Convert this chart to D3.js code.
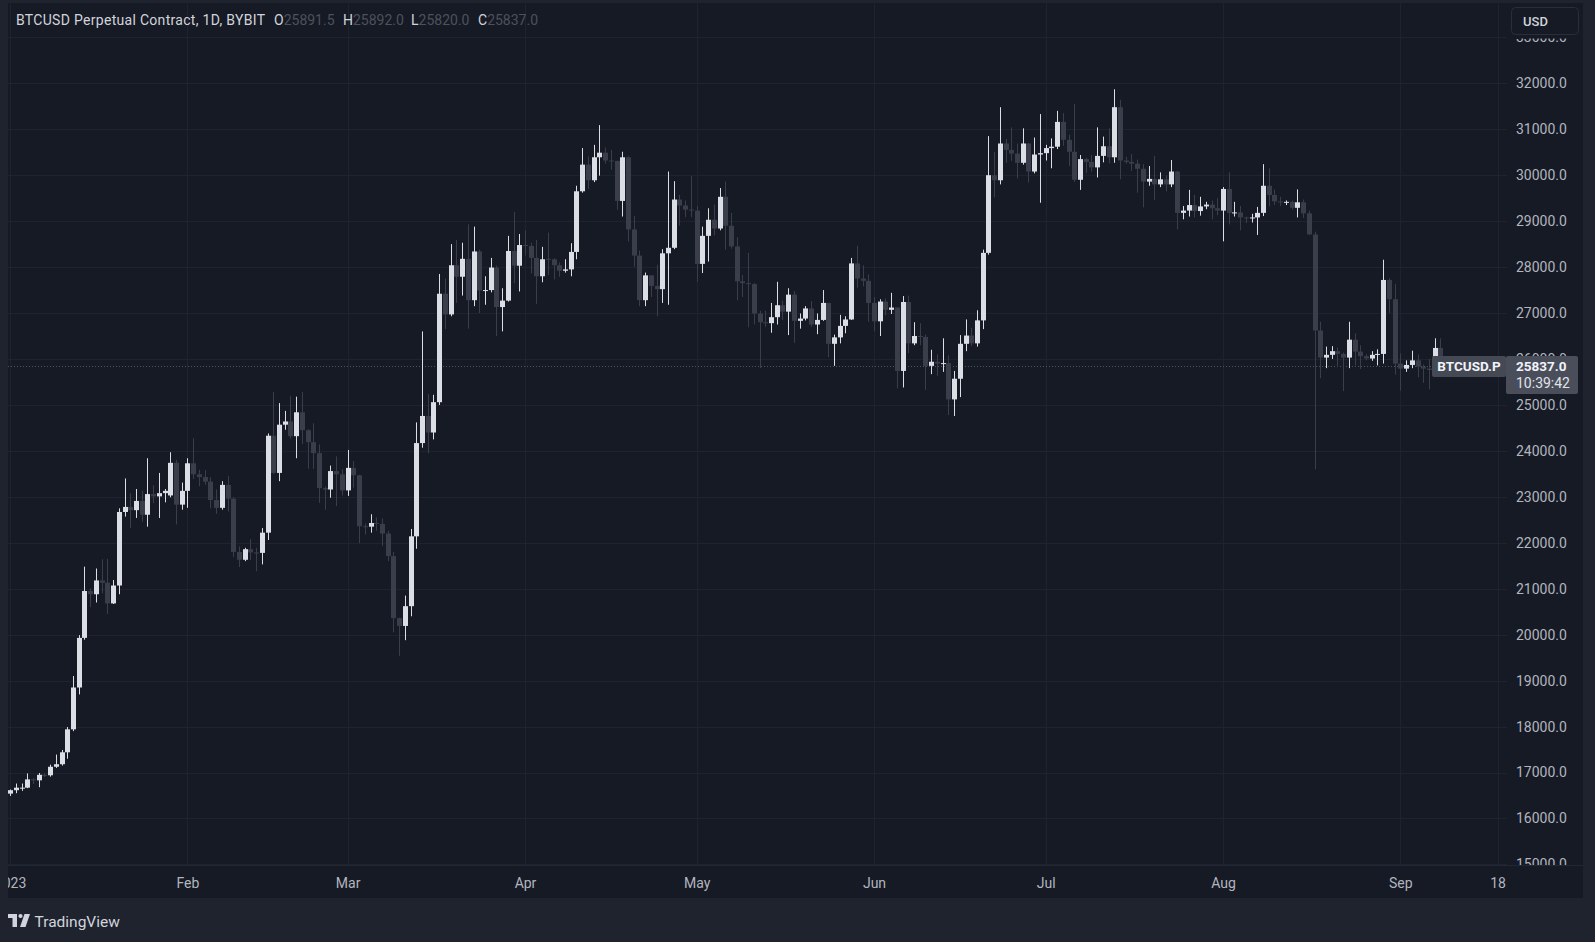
<!DOCTYPE html>
<html><head><meta charset="utf-8">
<script src="https://cdn.jsdelivr.net/npm/d3@7"></script>
<style>
html,body{margin:0;padding:0;background:#1f232e;overflow:hidden;}
svg{display:block;}
</style></head><body>
<svg id="c" width="1595" height="942"></svg>
<script>
// ---- DATA (daily OHLC, BTCUSD perpetual, Bybit) ----
const jan = [
[16540,16630,16490,16615],[16615,16760,16550,16670],[16670,16760,16600,16670],[16670,16980,16660,16850],
[16850,16880,16750,16830],[16830,16990,16680,16950],[16950,16980,16900,16940],[16940,17170,16910,17125],
[17125,17390,17100,17180],[17180,17490,17150,17440],[17440,17990,17300,17940],[17940,19100,17900,18850],
[18850,19990,18700,19930],[19930,21480,19890,20950],[20950,21000,20600,20880],[20880,21440,20700,21180],
[21180,21640,20900,21130],[21130,21650,20450,20680],[20680,21190,20670,21070],[21070,22750,20880,22670],
[22670,23400,22570,22780],[22780,23080,22320,22710],[22710,23170,22540,22910],[22910,23130,22460,22610],
[22610,23840,22350,23060],[23060,23250,22860,23010],[23010,23520,22540,23080],[23080,23170,22880,23130],
[23030,23970,22990,23740],[23740,23800,22400,22830],[22830,23310,22720,23130]];
const feb = [
[23130,23840,22760,23730],[23730,24270,23390,23490],[23490,23590,23230,23430],[23430,23580,23260,23330],
[23330,23430,22750,22930],[22930,23160,22630,22760],[22760,23340,22720,23260],[23260,23450,22680,22960],
[22960,22990,21690,21800],[21800,21920,21470,21630],[21630,21890,21600,21860],[21860,22080,21620,21790],
[21790,21890,21380,21780],[21780,22320,21530,22220],[22220,24380,22060,24330],[24330,25280,23500,23520],
[23520,25040,23340,24570],[24570,24870,24460,24640],[24640,25190,24270,24320],[24320,25180,23840,24840],
[24840,25280,24150,24450],[24450,24470,23610,24190],[24190,24600,23610,23950],[23950,24140,22870,23190],
[23190,23220,22720,23160],[23160,23680,22980,23560],[23560,23880,22800,23490],[23490,23600,23030,23140]];
const mar = [
[23140,24020,23020,23630],[23630,23780,23200,23470],[23470,23480,21990,22360],[22360,22420,22180,22350],
[22350,22620,22220,22430],[22430,22550,22260,22410],[22410,22530,21930,22200],[22200,22260,21600,21710],
[21710,21800,20050,20360],[20360,20370,19540,20190],[20190,20850,19880,20620],[20620,22300,20400,22140],
[22140,24620,21870,24170],[24170,26600,24070,24760],[24760,25240,23950,24400],[24400,25220,24250,25060],
[25060,27850,25000,27420],[27420,27750,26650,26970],[26970,28500,26930,28040],[28040,28590,27220,27790],
[27790,28530,27380,28180],[28180,28930,26660,27280],[27280,28880,27150,28340],[28340,28380,27000,27490],
[27490,27800,27180,27500],[27500,28200,27450,27990],[27990,28030,26500,27130],[27130,27540,26600,27270],
[27270,28680,27250,28350],[28350,29200,27650,28030],[28030,28720,27470,28480]];
const apr = [
[28480,28800,28250,28460],[28460,28530,27860,28200],[28200,28590,27200,27800],[27800,28440,27670,28170],
[28180,28750,27830,28160],[28170,28190,27730,28040],[28040,28100,27790,27920],[27920,28170,27880,27950],
[27950,28520,27800,28330],[28330,29770,28170,29650],[29650,30590,29620,30230],[30230,30410,29700,29890],
[29890,30660,29850,30390],[30390,31090,29990,30490],[30490,30600,30250,30320],[30320,30550,30120,30310],
[30310,30320,29250,29440],[29440,30510,29100,30390],[30390,30410,28560,28820],[28820,29110,28010,28250],
[28250,28360,27150,27280],[27280,27880,27150,27820],[27820,27820,27350,27590],[27590,28050,26930,27520],
[27520,28390,27220,28300],[28300,30080,27180,28420],[28420,29870,28390,29470],[29470,29570,28900,29340],
[29340,29450,29090,29250],[29250,29980,29090,29230]];
const may = [
[29230,29330,27680,28070],[28070,28880,27870,28680],[28680,29280,28120,29030],[29030,29360,28690,28840],
[28840,29720,28800,29530],[29530,29860,28380,28900],[28900,29180,28400,28450],[28450,28650,27280,27690],
[27690,27830,27350,27650],[27650,28310,26690,27630],[27630,27650,26750,26990],[26990,27050,25800,26800],
[26800,27050,26700,26780],[26780,27220,26570,26910],[26910,27680,26750,27170],[27170,27270,26850,27030],
[27030,27540,26520,27400],[27400,27480,26350,26830],[26830,26990,26660,26880],[26880,27150,26840,27100],
[27100,27260,26700,26750],[26750,26990,26540,26850],[26850,27500,26830,27220],[27220,27220,26040,26330],
[26330,26530,25850,26470],[26470,26960,26340,26720],[26720,26930,26560,26860],[26860,28200,26850,28080],
[28080,28460,27550,27750],[27750,28040,27580,27700],[27700,27840,26810,27220]];
const jun = [
[27220,27350,26600,26820],[26820,27300,26500,27250],[27250,27320,26950,27070],[27070,27440,26980,27120],
[27120,27130,25360,25740],[25740,27370,25380,27240],[27240,27380,26130,26340],[26340,26800,26300,26500],
[26500,26780,26300,26480],[26480,26530,25330,25850],[25850,26200,25670,25940],[25940,26100,25630,25900],
[25900,26450,25720,25910],[25910,26080,24780,25120],[25120,25740,24760,25570],[25570,26520,25170,26330],
[26330,26860,26170,26510],[26510,26680,26280,26340],[26340,27060,26270,26840],[26840,28380,26650,28310],
[28310,30850,28270,30000],[30000,30510,29520,29890],[29890,31480,29800,30690],[30690,30790,30270,30550],
[30550,31040,30310,30470],[30470,30690,29930,30270],[30270,31020,30230,30690],[30690,30700,29840,30080],
[30080,30820,30040,30450],[30450,31330,29400,30480]];
const jul = [
[30480,30660,30320,30590],[30590,30800,30150,30620],[30620,31400,30570,31160],[31160,31350,30640,30770],
[30770,30880,30200,30510],[30510,31550,29850,29900],[29900,30440,29680,30350],[30350,30380,30050,30290],
[30290,30440,30080,30170],[30170,31040,29950,30420],[30420,30840,30280,30630],[30630,31020,30260,30390],
[30390,31870,30270,31480],[31480,31640,29910,30320],[30320,30400,30250,30290],[30290,30460,30090,30250],
[30250,30340,29620,30140],[30140,30240,29300,29860],[29860,30200,29770,29920],[29920,30420,29460,29800],
[29800,30060,29740,29910],[29910,29990,29650,29800],[29800,30330,29740,30080],[30080,30100,28820,29180],
[29180,29330,29040,29230],[29230,29680,29100,29350],[29350,29570,29080,29220],[29220,29530,29120,29320],
[29320,29420,29260,29360],[29360,29450,29040,29280],[29280,29500,29130,29230]];
const aug = [
[29230,29740,28560,29700],[29700,30060,28930,29180],[29180,29420,29100,29190],[29190,29330,28800,29080],
[29080,29100,28960,29070],[29070,29160,28970,29080],[29080,29310,28700,29180],[29180,30240,29110,29770],
[29770,30150,29320,29570],[29570,29690,29350,29430],[29430,29530,29330,29410],[29410,29450,29350,29420],
[29420,29450,29250,29290],[29290,29690,29080,29410],[29410,29470,29070,29170],[29170,29230,28700,28710],
[28710,28770,23600,26620],[26620,26810,25580,26030],[26030,26270,25800,26090],[26090,26280,26000,26170],
[26170,26250,25820,26110],[26110,26140,25300,26030],[26030,26810,25800,26420],[26420,26560,25860,26160],
[26160,26300,25780,26060],[26060,26100,25970,26010],[26010,26170,25960,26090],[26090,26210,25860,26110],
[26110,28160,25900,27720],[27720,27760,27000,27300],[27300,27630,25660,25900]];
const sep = [
[25900,26120,25310,25790],[25790,25970,25720,25870],[25870,26180,25800,25970],[25970,26100,25600,25830],
[25830,25880,25480,25790],[25790,26000,25340,25760],[25760,26450,25620,26240],[26240,26450,25660,25900],
[25900,25940,25800,25890],[25891.5,25892,25820,25837]];

const priceTicks = [15000,16000,17000,18000,19000,20000,21000,22000,23000,24000,25000,26000,27000,28000,29000,30000,31000,32000,33000];
const timeTickDates = ["2023-01-01","2023-02-01","2023-03-01","2023-04-01","2023-05-01","2023-06-01","2023-07-01","2023-08-01","2023-09-01","2023-09-18"];
const timeTickLabels = ["2023","Feb","Mar","Apr","May","Jun","Jul","Aug","Sep","18"];
const lastPrice = 25837.0;
const header = {title:"BTCUSD Perpetual Contract, 1D, BYBIT", O:"25891.5", H:"25892.0", L:"25820.0", C:"25837.0"};

// ---- BUILD ----
const FONT = "Roboto, 'Noto Sans', 'DejaVu Sans', sans-serif";
const UP = "#dcdee5", DOWN = "#3a3e4a";
const rows = [].concat(jan,feb,mar,apr,may,jun,jul,aug,sep);
const t0 = Date.UTC(2023,0,1);
const data = rows.map((r,i)=>({date:new Date(t0 + i*864e5), o:r[0], h:r[1], l:r[2], c:r[3]}));
const tickDates = timeTickDates.map(s=>new Date(s+"T00:00:00Z"));

const x = d3.scaleUtc().domain([new Date(Date.UTC(2023,0,1)), new Date(Date.UTC(2023,8,18))]).range([10.1, 1497.6]);
const y = d3.scaleLinear().domain([15000,32000]).range([864.4, 83.3]);

const svg = d3.select("#c");
svg.append("rect").attr("width",1595).attr("height",942).attr("fill","#1f232e");
svg.append("rect").attr("x",8).attr("y",3).attr("width",1575).attr("height",895).attr("fill","#161a25");

const defs = svg.append("defs");
defs.append("clipPath").attr("id","plotClip").append("rect").attr("x",8).attr("y",3).attr("width",1499).attr("height",862);
defs.append("clipPath").attr("id","scaleClip").append("rect").attr("x",1507).attr("y",38.5).attr("width",76).attr("height",826.5);
defs.append("clipPath").attr("id","timeClip").append("rect").attr("x",8).attr("y",866).attr("width",1575).attr("height",32);

const plot = svg.append("g").attr("clip-path","url(#plotClip)");
// grid
plot.append("g").selectAll("line").data(priceTicks).join("line")
  .attr("x1",8).attr("x2",1510)
  .attr("y1",d=>Math.round(y(d))+0.5).attr("y2",d=>Math.round(y(d))+0.5)
  .attr("stroke","#1f2330").attr("stroke-width",1);
plot.append("g").selectAll("line").data(tickDates).join("line")
  .attr("x1",d=>Math.round(x(d))+0.5).attr("x2",d=>Math.round(x(d))+0.5)
  .attr("y1",3).attr("y2",865)
  .attr("stroke","#1f2330").attr("stroke-width",1);

// last price dotted line
plot.append("line").attr("x1",8).attr("x2",1507)
  .attr("y1",Math.round(y(lastPrice))+0.5).attr("y2",Math.round(y(lastPrice))+0.5)
  .attr("stroke","#50545f").attr("stroke-width",1).attr("stroke-dasharray","1,2");

// candles
const cg = plot.append("g");
const candle = cg.selectAll("g").data(data).join("g");
candle.append("line")
  .attr("x1",d=>Math.round(x(d.date))+0.5).attr("x2",d=>Math.round(x(d.date))+0.5)
  .attr("y1",d=>y(d.h)).attr("y2",d=>y(d.l))
  .attr("stroke",d=>d.c>=d.o?UP:DOWN).attr("stroke-width",1);
candle.append("rect")
  .attr("x",d=>Math.round(x(d.date))-2)
  .attr("width",5)
  .attr("y",d=>y(Math.max(d.o,d.c)))
  .attr("height",d=>Math.max(1, Math.abs(y(d.o)-y(d.c))))
  .attr("fill",d=>d.c>=d.o?UP:DOWN);

// time axis border
svg.append("line").attr("x1",8).attr("x2",1583).attr("y1",865.5).attr("y2",865.5).attr("stroke","#232733");

// price scale
const yAxis = d3.axisRight(y).tickValues(priceTicks).tickFormat(d3.format(".1f")).tickSize(0).tickPadding(0);
const gy = svg.append("g").attr("clip-path","url(#scaleClip)")
  .append("g").attr("transform","translate(1516,0)").call(yAxis)
  .attr("font-family",FONT).attr("font-size",14);
gy.select(".domain").remove();
gy.selectAll("text").attr("fill","#b2b5be");

// time scale
const xAxis = d3.axisBottom(x).tickValues(tickDates).tickFormat((d,i)=>timeTickLabels[i]).tickSize(0).tickPadding(13);
const gx = svg.append("g").attr("clip-path","url(#timeClip)")
  .append("g").attr("transform","translate(0,865)").call(xAxis)
  .attr("font-family",FONT).attr("font-size",14);
gx.select(".domain").remove();
gx.selectAll("text").attr("fill","#b2b5be");

// USD button
svg.append("rect").attr("x",1511.5).attr("y",7.5).attr("width",67).attr("height",27).attr("rx",4)
  .attr("fill","#161a25").attr("stroke","#2a2e39");
svg.append("text").attr("x",1523).attr("y",26).attr("font-family",FONT).attr("font-size",13)
  .attr("font-weight",500).attr("fill","#d1d4dc").text("USD");

// header
const ht = svg.append("text").attr("x",16).attr("y",25).attr("font-family",FONT).attr("font-size",14).attr("fill","#d1d4dc");
ht.append("tspan").attr("textLength",249).attr("lengthAdjust","spacing").text(header.title);
[["O",274,header.O],["H",343,header.H],["L",411,header.L],["C",478,header.C]].forEach(([k,px,v])=>{
  ht.append("tspan").attr("x",px).attr("fill","#d1d4dc").text(k);
  ht.append("tspan").attr("fill","#4d515c").text(v);
});

// symbol label + price label
const yl = y(lastPrice);
svg.append("rect").attr("x",1432).attr("y",yl-10.5).attr("width",74).attr("height",21).attr("rx",2).attr("fill","#454954");
svg.append("text").attr("x",1469).attr("y",yl+4.8).attr("text-anchor","middle").attr("font-family",FONT)
  .attr("font-size",13.5).attr("font-weight",700).attr("fill","#f0f3fa").text("BTCUSD.P");
svg.append("rect").attr("x",1506).attr("y",yl-10.5).attr("width",72).attr("height",38).attr("rx",2).attr("fill","#4a4e5a");
svg.append("text").attr("x",1516).attr("y",yl+4.8).attr("font-family",FONT)
  .attr("font-size",13.5).attr("font-weight",700).attr("fill","#f0f3fa").text(d3.format(".1f")(lastPrice));
svg.append("text").attr("x",1516).attr("y",yl+21.5).attr("font-family",FONT)
  .attr("font-size",14).attr("fill","#e0e3eb").text("10:39:42");

// TradingView logo
const logo = svg.append("g").attr("fill","#d1d4dc");
logo.append("rect").attr("x",8).attr("y",914).attr("width",9).attr("height",4);
logo.append("rect").attr("x",12.5).attr("y",914).attr("width",4.5).attr("height",13);
logo.append("circle").attr("cx",20.5).attr("cy",916).attr("r",2.1);
logo.append("path").attr("d","M24.5,914 L30,914 L25.5,927 L20,927 Z");
svg.append("text").attr("x",34.5).attr("y",926.5).attr("font-family",FONT).attr("font-size",15.5)
  .attr("fill","#d1d4dc").text("TradingView");
</script>
</body></html>
